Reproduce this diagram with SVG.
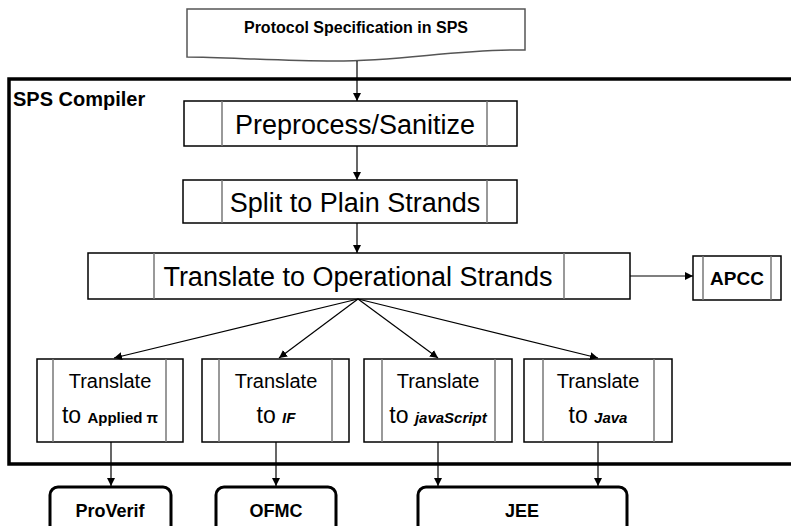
<svg xmlns="http://www.w3.org/2000/svg" width="791" height="526" viewBox="0 0 791 526">
<defs>
<marker id="ah" viewBox="0 0 10 10" refX="10" refY="5" markerWidth="8" markerHeight="8" markerUnits="userSpaceOnUse" orient="auto">
<path d="M0,0 L10,5 L0,10 Z" fill="#000"/>
</marker>
<style>
.box{fill:#fff;stroke:#000;stroke-width:1.5}
.inner{stroke:#777;stroke-width:1.5;fill:none}
.big{font-family:"Liberation Sans",Arial,sans-serif;font-size:27px;fill:#000;text-anchor:middle}
.mid{font-family:"Liberation Sans",Arial,sans-serif;font-size:20px;fill:#000;text-anchor:middle}
.to{font-size:23px}
.b{font-family:"Liberation Sans",Arial,sans-serif;font-weight:bold;fill:#000}
.out{fill:#fff;stroke:#000;stroke-width:3}
.con{stroke:#000;stroke-width:1.2;fill:none;marker-end:url(#ah)}
</style>
</defs>
<rect width="791" height="526" fill="#fff"/>

<g id="frame">
<path d="M800,79 H9 V464 H800" fill="none" stroke="#000" stroke-width="3.5"/>
<text x="13" y="106" class="b" font-size="20">SPS Compiler</text>
</g>

<g id="spec">
<path d="M187,9 H525 V50 C455,49 405,61 335,61 C275,61 225,57 187,57 Z" fill="#fff" stroke="#555" stroke-width="1.5"/>
<text x="356" y="33" class="b" font-size="16" text-anchor="middle">Protocol Specification in SPS</text>
</g>

<g id="preprocess">
<rect x="184" y="101" width="333" height="45" class="box"/>
<line x1="222" y1="101" x2="222" y2="146" class="inner"/>
<line x1="487" y1="101" x2="487" y2="146" class="inner"/>
<text x="355" y="134" class="big">Preprocess/Sanitize</text>
</g>

<g id="split">
<rect x="183" y="180" width="334" height="43" class="box"/>
<line x1="222" y1="180" x2="222" y2="223" class="inner"/>
<line x1="487" y1="180" x2="487" y2="223" class="inner"/>
<text x="355" y="212" class="big">Split to Plain Strands</text>
</g>

<g id="operational">
<rect x="88" y="253" width="542" height="46" class="box"/>
<line x1="154" y1="253" x2="154" y2="299" class="inner"/>
<line x1="564" y1="253" x2="564" y2="299" class="inner"/>
<text x="358" y="286" class="big">Translate to Operational Strands</text>
</g>

<g id="apcc">
<rect x="693" y="256" width="88" height="44" class="box"/>
<line x1="703" y1="256" x2="703" y2="300" class="inner"/>
<line x1="771" y1="256" x2="771" y2="300" class="inner"/>
<text x="737" y="285" class="b" font-size="19" text-anchor="middle">APCC</text>
</g>

<g id="applied">
<rect x="37" y="359" width="146" height="83" class="box"/>
<line x1="53" y1="359" x2="53" y2="442" class="inner"/>
<line x1="166" y1="359" x2="166" y2="442" class="inner"/>
<text x="110" y="388" class="mid">Translate</text>
<text x="110" y="423" class="mid"><tspan class="to">to </tspan><tspan class="b" font-size="15">Applied π</tspan></text>
</g>

<g id="if">
<rect x="202" y="359" width="147" height="83" class="box"/>
<line x1="219" y1="359" x2="219" y2="442" class="inner"/>
<line x1="332" y1="359" x2="332" y2="442" class="inner"/>
<text x="276" y="388" class="mid">Translate</text>
<text x="276" y="423" class="mid"><tspan class="to">to </tspan><tspan class="b" font-size="15" font-style="italic">IF</tspan></text>
</g>

<g id="javascript">
<rect x="364" y="359" width="148" height="83" class="box"/>
<line x1="382" y1="359" x2="382" y2="442" class="inner"/>
<line x1="495" y1="359" x2="495" y2="442" class="inner"/>
<text x="438" y="388" class="mid">Translate</text>
<text x="438" y="423" class="mid"><tspan class="to">to </tspan><tspan class="b" font-size="15" font-style="italic">javaScript</tspan></text>
</g>

<g id="java">
<rect x="524" y="359" width="148" height="83" class="box"/>
<line x1="543" y1="359" x2="543" y2="442" class="inner"/>
<line x1="654" y1="359" x2="654" y2="442" class="inner"/>
<text x="598" y="388" class="mid">Translate</text>
<text x="598" y="423" class="mid"><tspan class="to">to </tspan><tspan class="b" font-size="15" font-style="italic">Java</tspan></text>
</g>

<g id="proverif">
<rect x="50" y="487" width="121" height="60" rx="8" class="out"/>
<text x="110" y="517" class="b" font-size="18" text-anchor="middle">ProVerif</text>
</g>

<g id="ofmc">
<rect x="216" y="487" width="120" height="60" rx="8" class="out"/>
<text x="276" y="517" class="b" font-size="18" text-anchor="middle">OFMC</text>
</g>

<g id="jee">
<rect x="418" y="487" width="209" height="60" rx="8" class="out"/>
<text x="522" y="517" class="b" font-size="18" text-anchor="middle">JEE</text>
</g>

<g id="connectors">
<line x1="357" y1="61" x2="357" y2="101" class="con"/>
<line x1="357" y1="146" x2="357" y2="180" class="con"/>
<line x1="357" y1="223" x2="357" y2="253" class="con"/>
<line x1="630" y1="276" x2="693" y2="276" class="con"/>
<line x1="358" y1="299" x2="114" y2="358" class="con"/>
<line x1="358" y1="299" x2="279" y2="358" class="con"/>
<line x1="358" y1="299" x2="438" y2="358" class="con"/>
<line x1="358" y1="299" x2="598" y2="358" class="con"/>
<line x1="111" y1="442" x2="111" y2="486" class="con"/>
<line x1="276" y1="442" x2="276" y2="486" class="con"/>
<line x1="438" y1="442" x2="438" y2="486" class="con"/>
<line x1="598" y1="442" x2="598" y2="486" class="con"/>
</g>
</svg>
